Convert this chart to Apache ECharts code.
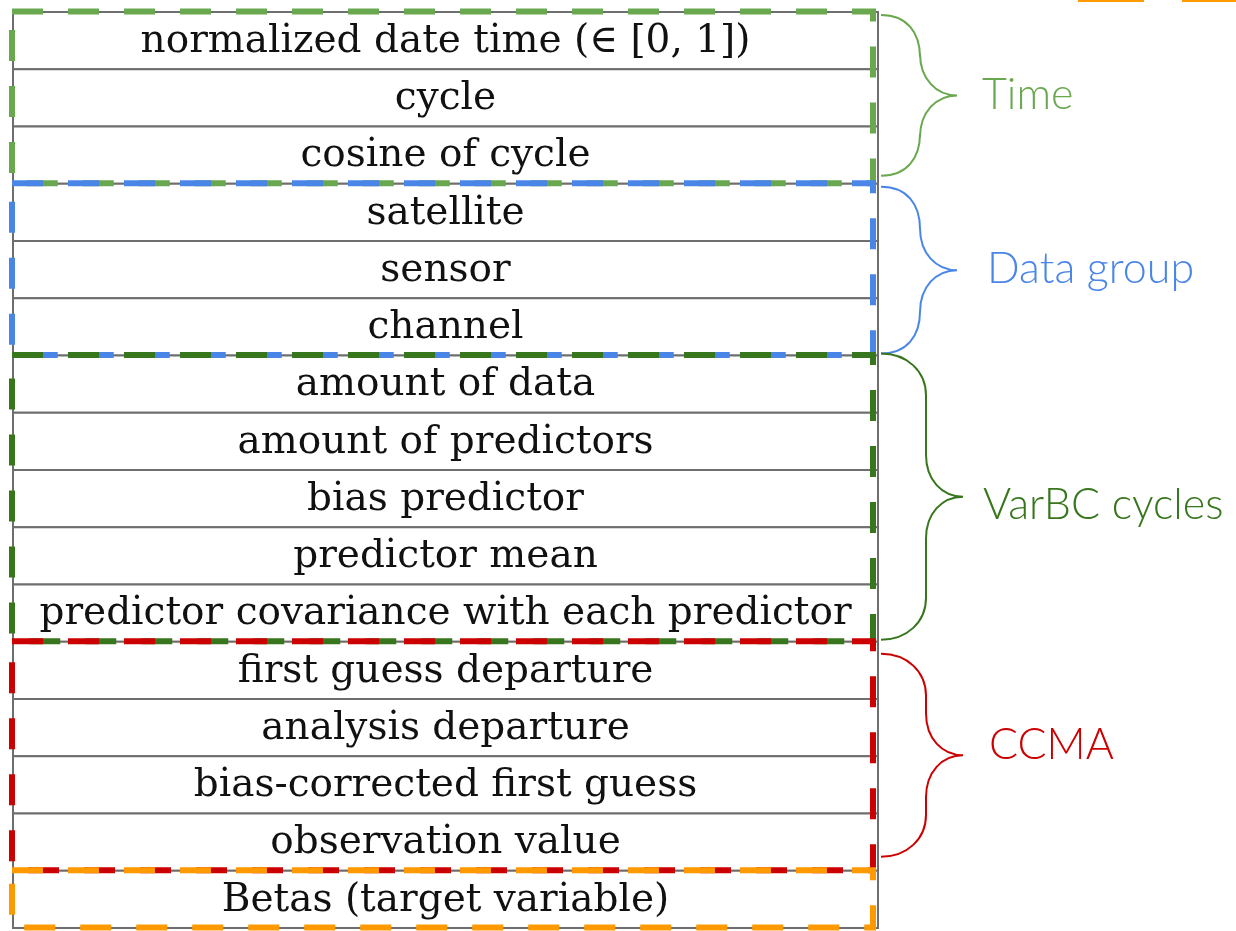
<!DOCTYPE html>
<html>
<head>
<meta charset="utf-8">
<script src="https://cdn.jsdelivr.net/npm/echarts@6/dist/echarts.min.js"></script>
<style>
    html,body{margin:0;padding:0;background:#fff;}
    #main{width:1236px;height:931px;}
</style>
</head>
<body>
<div id="main"></div>
<script>
    // table rows, top to bottom
    var rowLabels = [
        'normalized date time (\u2208 [0, 1])',
        'cycle',
        'cosine of cycle',
        'satellite',
        'sensor',
        'channel',
        'amount of data',
        'amount of predictors',
        'bias predictor',
        'predictor mean',
        'predictor covariance with each predictor',
        'first guess departure',
        'analysis departure',
        'bias-corrected first guess',
        'observation value',
        'Betas (target variable)'
    ];
    // feature groups (row ranges)
    var groupNames  = ['Time', 'Data group', 'VarBC cycles', 'CCMA', ''];
    var groupStart  = [0, 3, 6, 11, 15];
    var groupEnd    = [3, 6, 11, 15, 16];
    var groupColors = ['#6aa84f', '#4a86e8', '#38761d', '#cc0000', '#ff9900'];

    // brace insets (top, bottom) and label nudges, px
    var bracePad = [[3, 8], [3, 2], [-2, 2], [12, 14], [0, 0]];
    var labelDx  = [-5, 0, -4, 2, 0];
    var labelDy  = [0, -1, 8, -10, 0];

    var chart = echarts.init(document.getElementById('main'));

    function renderRow(params, api){
        var i = api.value(1);
        var p0 = api.coord([0, i]);
        var p1 = api.coord([1, i + 1]);
        return {
            type: 'group',
            children: [
                {
                    type: 'rect',
                    shape: {x: p0[0], y: p0[1], width: p1[0] - p0[0], height: p1[1] - p0[1]},
                    style: {fill: '#fff', stroke: '#6e6e6e', lineWidth: 2}
                },
                {
                    type: 'text',
                    style: {
                        text: rowLabels[i],
                        x: (p0[0] + p1[0]) / 2,
                        y: (p0[1] + p1[1]) / 2 + 1,
                        align: 'center',
                        verticalAlign: 'middle',
                        fontFamily: 'DejaVu Serif',
                        fontSize: 39,
                        fill: '#111'
                    }
                }
            ]
        };
    }

    function renderGroup(params, api){
        var k = params.dataIndex;
        var a = api.coord([0, api.value(0)]);
        var b = api.coord([1, api.value(1)]);
        var color = groupColors[k];
        var children = [{
            type: 'rect',
            shape: {x: a[0] - 1, y: a[1] - 0.5, width: b[0] - a[0] - 4, height: b[1] - a[1]},
            style: {fill: null, stroke: color, lineWidth: 6, lineDash: [31, 25]}
        }];
        if (groupNames[k]) {
            var yT = a[1] + bracePad[k][0];
            var yB = b[1] - bracePad[k][1];
            var ym = (yT + yB) / 2;
            var tall = (yB - yT) > 200;
            var x0 = b[0] + 3;
            var xv = x0 + (tall ? 45 : 39);
            var xt = xv + 37;
            var R = 42;
            var d = 'M' + x0 + ',' + yT +
                ' C' + (x0 + 26) + ',' + yT + ' ' + xv + ',' + (yT + R * 0.42) + ' ' + xv + ',' + (yT + R) +
                ' L' + xv + ',' + (ym - R) +
                ' C' + xv + ',' + (ym - R * 0.4) + ' ' + (xv + 16) + ',' + ym + ' ' + xt + ',' + ym +
                ' C' + (xv + 16) + ',' + ym + ' ' + xv + ',' + (ym + R * 0.4) + ' ' + xv + ',' + (ym + R) +
                ' L' + xv + ',' + (yB - R) +
                ' C' + xv + ',' + (yB - R * 0.42) + ' ' + (x0 + 26) + ',' + yB + ' ' + x0 + ',' + yB;
            children.push({
                type: 'path',
                shape: {pathData: d},
                style: {fill: null, stroke: color, lineWidth: 2}
            });
            children.push({
                type: 'text',
                style: {
                    text: groupNames[k],
                    x: b[0] + 109 + labelDx[k],
                    y: ym + labelDy[k],
                    verticalAlign: 'middle',
                    fontFamily: 'Lato',
                    fontWeight: 300,
                    fontSize: 43,
                    fill: color
                }
            });
        }
        return {type: 'group', children: children};
    }

    var option = {
        animation: false,
        grid: {left: 13, right: 358, top: 12, bottom: 3},
        xAxis: {type: 'value', min: 0, max: 1, show: false},
        yAxis: {type: 'value', min: 0, max: 16, inverse: true, show: false},
        graphic: [
            {type: 'rect', left: 1078, top: 0, shape: {width: 66, height: 2}, style: {fill: '#ff9900'}},
            {type: 'rect', left: 1182, top: 0, shape: {width: 54, height: 2}, style: {fill: '#ff9900'}}
        ],
        series: [
            {
                type: 'custom',
                name: 'rows',
                clip: false,
                renderItem: renderRow,
                data: rowLabels.map(function(l, i){ return [0, i]; })
            },
            {
                type: 'custom',
                name: 'groups',
                clip: false,
                renderItem: renderGroup,
                encode: {x: -1, y: [0, 1]},
                data: groupStart.map(function(s, i){ return [s, groupEnd[i]]; })
            }
        ]
    };
    chart.setOption(option);
    window.addEventListener("resize", chart.resize);
</script>
</body>
</html>
